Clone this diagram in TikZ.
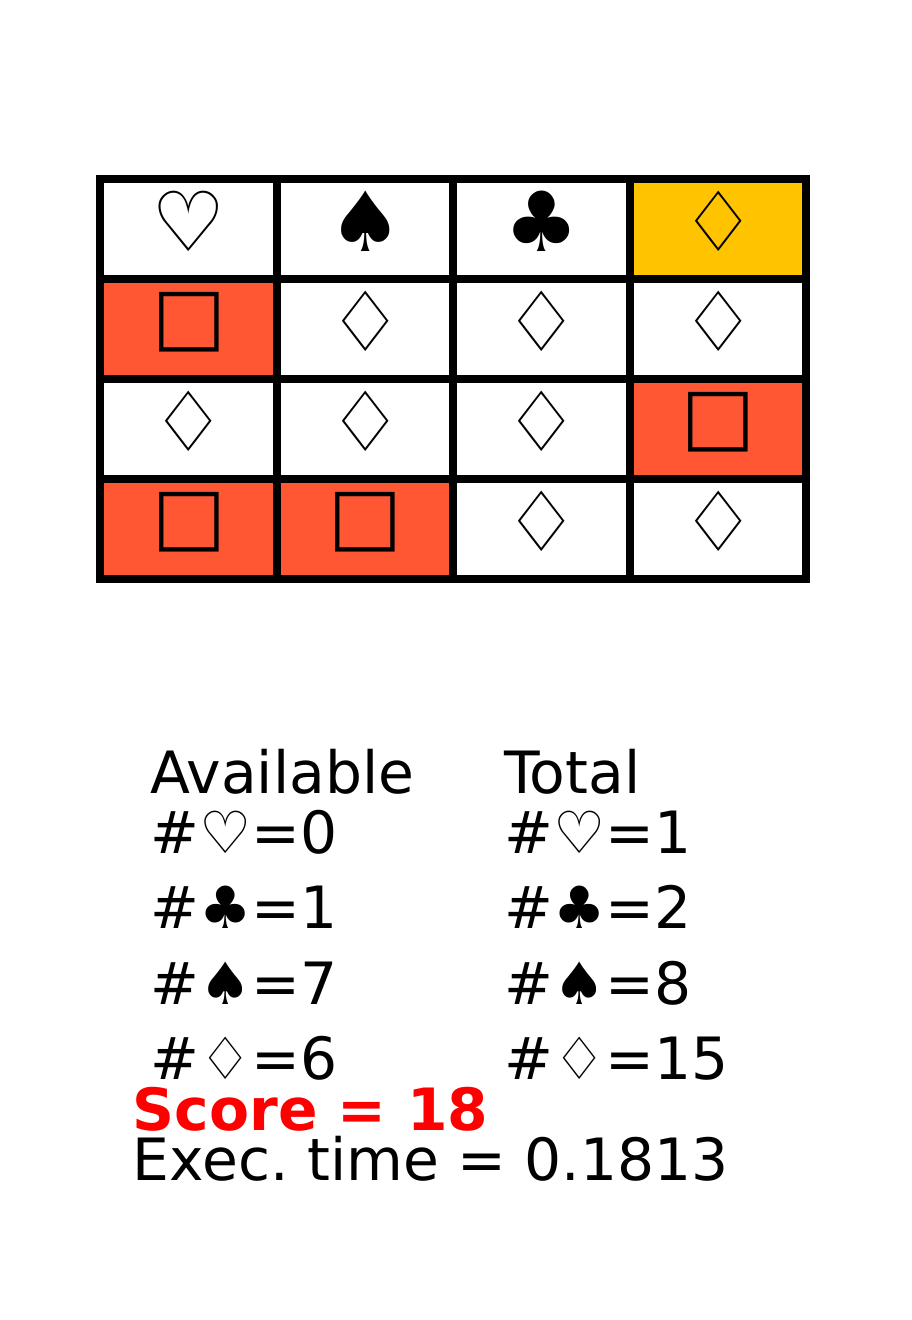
\documentclass[tikz,border=0pt]{standalone}
\usepackage{fontspec}
\setmainfont{DejaVu Sans}
\frenchspacing
\usetikzlibrary{positioning}
\definecolor{cellRed}{HTML}{FF5733}
\definecolor{cellGold}{HTML}{FFC300}
\tikzset{
    cellW/.style={draw, fill=white, line width=8pt, minimum width=176.5pt, minimum height=100pt, inner sep=0pt},
    cellR/.style={cellW, fill=cellRed},
    cellY/.style={cellW, fill=cellGold},
    suitS/.style={anchor=base, xshift=0.6pt, yshift=31.2pt, inner sep=0pt, font=\fontsize{83}{83}\selectfont},
    boxS/.style={anchor=base, xshift=0.6pt, yshift=41pt, inner sep=0pt, font=\fontsize{78}{78}\selectfont},
    textS/.style={anchor=base west, inner sep=0pt, font=\fontsize{58.3}{60}\selectfont}
}
\begin{document}
\begin{tikzpicture}[x=1pt, y=-1pt]
    \useasboundingbox (0,0) rectangle (912,1320);
    % board
    \node[cellW] (c11) at (188.25,229) {};
    \node[cellW] (c12) at (364.75,229) {};
    \node[cellW] (c13) at (541.25,229) {};
    \node[cellY] (c14) at (717.75,229) {};
    \node[cellR] (c21) at (188.25,329) {};
    \node[cellW] (c22) at (364.75,329) {};
    \node[cellW] (c23) at (541.25,329) {};
    \node[cellW] (c24) at (717.75,329) {};
    \node[cellW] (c31) at (188.25,429) {};
    \node[cellW] (c32) at (364.75,429) {};
    \node[cellW] (c33) at (541.25,429) {};
    \node[cellR] (c34) at (717.75,429) {};
    \node[cellR] (c41) at (188.25,529) {};
    \node[cellR] (c42) at (364.75,529) {};
    \node[cellW] (c43) at (541.25,529) {};
    \node[cellW] (c44) at (717.75,529) {};
    % symbols
    \node[suitS] (s11) at (c11.south) {♡};
    \node[suitS] (s12) at (c12.south) {♠};
    \node[suitS] (s13) at (c13.south) {♣};
    \node[suitS] (s14) at (c14.south) {♢};
    \node[boxS] (s21) at (c21.south) {□};
    \node[suitS] (s22) at (c22.south) {♢};
    \node[suitS] (s23) at (c23.south) {♢};
    \node[suitS] (s24) at (c24.south) {♢};
    \node[suitS] (s31) at (c31.south) {♢};
    \node[suitS] (s32) at (c32.south) {♢};
    \node[suitS] (s33) at (c33.south) {♢};
    \node[boxS] (s34) at (c34.south) {□};
    \node[boxS] (s41) at (c41.south) {□};
    \node[boxS] (s42) at (c42.south) {□};
    \node[suitS] (s43) at (c43.south) {♢};
    \node[suitS] (s44) at (c44.south) {♢};
    % counts
    \node[textS] (avail) at (150,793.5) {Available};
    \node[textS] (a1) at (150,853.5) {\#♡=0};
    \node[textS] (a2) at (150,928.5) {\#♣=1};
    \node[textS] (a3) at (150,1004) {\#♠=7};
    \node[textS] (a4) at (150,1079.5) {\#♢=6};
    \node[textS] (total) at (504,793.5) {Total};
    \node[textS] (t1) at (504,853.5) {\#♡=1};
    \node[textS] (t2) at (504,928.5) {\#♣=2};
    \node[textS] (t3) at (504,1004) {\#♠=8};
    \node[textS] (t4) at (504,1079.5) {\#♢=15};
    \node[textS, text=red] (score) at (132.5,1130) {\textbf{Score = 18}};
    \node[textS] (exec) at (132.5,1180) {Exec. time = 0.1813};
\end{tikzpicture}
\end{document}
